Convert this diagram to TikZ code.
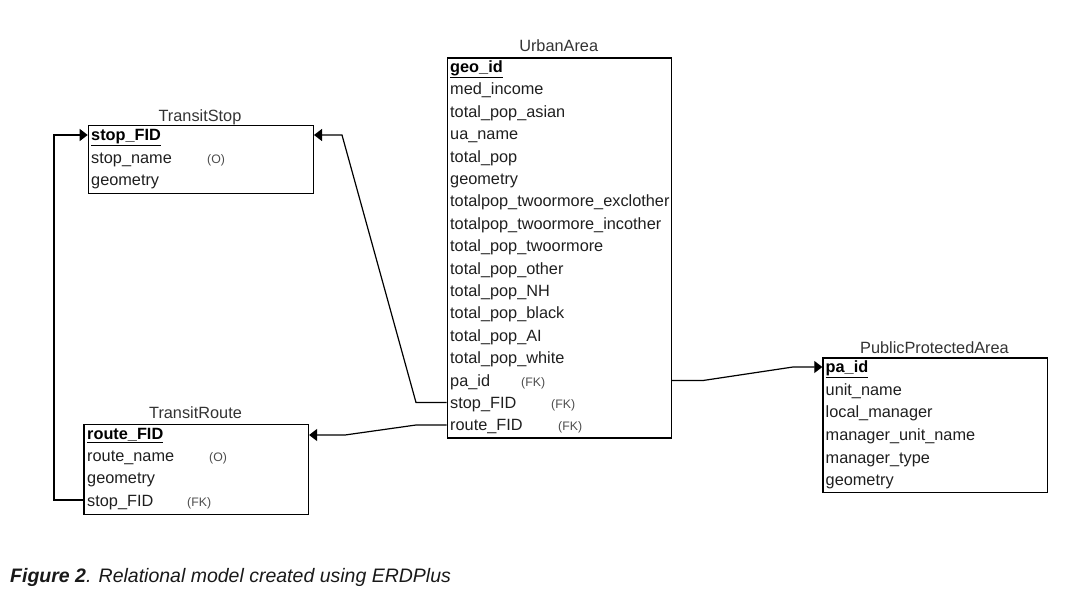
\documentclass[tikz,border=0pt]{standalone}
\usepackage{fontspec}
\setmainfont{Liberation Sans}
\usetikzlibrary{arrows.meta}
\begin{document}
\begin{tikzpicture}[x=1pt,y=-1pt,
  tbl/.style={draw, line width=1.3pt, inner sep=0pt, anchor=north west},
  row/.style={anchor=base west, inner sep=0pt, font=\fontsize{16.3}{18}\selectfont, text=black!88},
  pk/.style={row, font=\fontsize{16.3}{18}\selectfont\bfseries, text=black},
  tag/.style={anchor=base west, inner sep=0pt, font=\fontsize{12.3}{14}\selectfont, text=black!70},
  ttl/.style={anchor=base, inner sep=0pt, font=\fontsize{16.3}{18}\selectfont, text=black!80},
  conn/.style={line width=1.2pt},
  fk/.style={conn, -{Triangle[width=12pt,length=8pt]}}]
\useasboundingbox (0,0) rectangle (1065,602);

% ---------- TransitStop ----------
\node[tbl, minimum width=225pt, minimum height=67.5pt] (ts) at (87.7,125) {};
\node[ttl] (tsT) at (200,121.5) {TransitStop};
\node[pk]  (tsPK)   at (91,140.5) {\underline{stop\_FID}};
\node[row] (tsName) at (91,163) {stop\_name};
\node[tag] (tsO)    at (207,163) {(O)};
\node[row] (tsGeo)  at (91,185.4) {geometry};

% ---------- TransitRoute ----------
\node[tbl, minimum width=224.5pt, minimum height=89.5pt] (tr) at (83.3,424) {};
\node[ttl] (trT) at (195.5,418.5) {TransitRoute};
\node[pk]  (trPK)   at (87,439) {\underline{route\_FID}};
\node[row] (trName) at (87,461.4) {route\_name};
\node[tag] (trO)    at (209,461.4) {(O)};
\node[row] (trGeo)  at (87,483.8) {geometry};
\node[row] (trStop) at (87,506.2) {stop\_FID};
\node[tag] (trFK)   at (187,506.2) {(FK)};

% ---------- UrbanArea ----------
\node[tbl, minimum width=224pt, minimum height=380pt] (ua) at (446.7,57.3) {};
\node[ttl] (uaT) at (558.7,52) {UrbanArea};
\node[pk]  (ua0)  at (450,72.5) {\underline{geo\_id}};
\node[row] (ua1)  at (450,94.9) {med\_income};
\node[row] (ua2)  at (450,117.3) {total\_pop\_asian};
\node[row] (ua3)  at (450,139.7) {ua\_name};
\node[row] (ua4)  at (450,162.1) {total\_pop};
\node[row] (ua5)  at (450,184.5) {geometry};
\node[row] (ua6)  at (450,206.9) {totalpop\_twoormore\_exclother};
\node[row] (ua7)  at (450,229.3) {totalpop\_twoormore\_incother};
\node[row] (ua8)  at (450,251.7) {total\_pop\_twoormore};
\node[row] (ua9)  at (450,274.1) {total\_pop\_other};
\node[row] (ua10) at (450,296.5) {total\_pop\_NH};
\node[row] (ua11) at (450,318.9) {total\_pop\_black};
\node[row] (ua12) at (450,341.3) {total\_pop\_AI};
\node[row] (ua13) at (450,363.7) {total\_pop\_white};
\node[row] (ua14) at (450,386.1) {pa\_id};
\node[tag] (ua14t) at (521,386.1) {(FK)};
\node[row] (ua15) at (450,408.5) {stop\_FID};
\node[tag] (ua15t) at (551,408.5) {(FK)};
\node[row] (ua16) at (450,430.9) {route\_FID};
\node[tag] (ua16t) at (558,430.9) {(FK)};

% ---------- PublicProtectedArea ----------
\node[tbl, minimum width=224.5pt, minimum height=134.5pt] (pa) at (822.3,357.3) {};
\node[ttl] (paT) at (934.5,353) {PublicProtectedArea};
\node[pk]  (pa0) at (825.5,372.7) {\underline{pa\_id}};
\node[row] (pa1) at (825.5,395.3) {unit\_name};
\node[row] (pa2) at (825.5,417.9) {local\_manager};
\node[row] (pa3) at (825.5,440.5) {manager\_unit\_name};
\node[row] (pa4) at (825.5,463.1) {manager\_type};
\node[row] (pa5) at (825.5,485.7) {geometry};

% ---------- connectors ----------
\coordinate (c1) at (54,500);
\coordinate (c2) at (54,135);
\draw[fk] (tr.west |- 0,500) -- (c1) -- (c2) -- (ts.west |- 0,135);

\coordinate (s1) at (416,402.5);
\coordinate (s2) at (342,135);
\draw[fk] (ua.west |- 0,402.5) -- (s1) -- (s2) -- (ts.east |- 0,135);

\coordinate (r1) at (416,425);
\coordinate (r2) at (345,435);
\draw[fk] (ua.west |- 0,425) -- (r1) -- (r2) -- (tr.east |- 0,435);

\coordinate (p1) at (703,380.5);
\coordinate (p2) at (793,367);
\draw[fk] (ua.east |- 0,380.5) -- (p1) -- (p2) -- (pa.west |- 0,367);

% ---------- caption ----------
\node[anchor=base west, inner sep=0pt, font=\fontsize{19.5}{23}\selectfont\itshape, text=black!90] (cap) at (10,582)
  {\textbf{Figure 2}. Relational model created using ERDPlus};
\end{tikzpicture}
\end{document}
